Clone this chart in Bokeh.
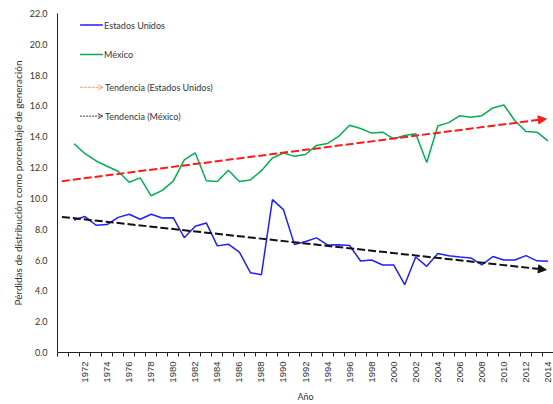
import math
from bokeh.plotting import figure
from bokeh.models import Range1d, FixedTicker, Arrow, NormalHead, OpenHead, Label
from bokeh.embed import file_html
from bokeh.resources import INLINE

# ---- data ----
years = list(range(1971, 2015))
us_losses = [8.6, 8.82, 8.26, 8.3, 8.77, 8.97, 8.65, 8.97, 8.73, 8.75,
             7.45, 8.19, 8.41, 6.92, 7.03, 6.52, 5.18, 5.05, 9.92, 9.27,
             7.0, 7.2, 7.44, 6.98, 7.0, 6.94, 5.94, 6.0, 5.68, 5.68,
             4.4, 6.2, 5.59, 6.42, 6.28, 6.19, 6.14, 5.69, 6.23, 6.0,
             6.0, 6.29, 5.95, 5.92]
mx_losses = [13.55, 12.9, 12.43, 12.09, 11.76, 11.05, 11.33, 10.17, 10.52, 11.12,
             12.5, 12.95, 11.14, 11.1, 11.83, 11.1, 11.2, 11.8, 12.62, 12.95,
             12.73, 12.85, 13.44, 13.57, 14.02, 14.75, 14.54, 14.24, 14.3, 13.87,
             14.08, 14.19, 12.33, 14.7, 14.92, 15.37, 15.26, 15.37, 15.87, 16.06,
             15.04, 14.34, 14.3, 13.73]
trend_years = [1969.9, 2013.85]
trend_us = [8.8, 5.37]
trend_mx = [11.12, 15.16]
label_years = list(range(1972, 2015, 2))
y_ticks = list(range(0, 23, 2))
series_names = ["Estados Unidos", "México", "Tendencia (Estados Unidos)", "Tendencia (México)"]

FONT = "Lato"

p = figure(width=553, height=404, output_backend="svg", toolbar_location=None,
           x_range=Range1d(1969.5, 2014.5), y_range=Range1d(0, 22),
           min_border_left=57, min_border_right=0, min_border_top=13, min_border_bottom=50)
p.xgrid.visible = False
p.ygrid.visible = False
p.outline_line_color = None

# x axis: category-style, ticks between years, labels every other year
xa = p.xaxis[0]
boundaries = [y - 0.5 for y in range(1970, 2016)]
xa.ticker = FixedTicker(ticks=label_years, minor_ticks=boundaries)
xa.axis_line_color = "#222222"
xa.major_tick_line_color = None
xa.major_tick_out = 0
xa.major_tick_in = 0
xa.minor_tick_line_color = "#222222"
xa.minor_tick_out = 4
xa.minor_tick_in = 0
xa.major_label_orientation = math.pi / 2
xa.major_label_text_font = "Liberation Sans"
xa.major_label_text_font_size = "9.5px"
xa.major_label_text_color = "#333333"
xa.major_label_standoff = 5
xa.axis_label = "Año"
xa.axis_label_text_font = FONT
xa.axis_label_text_font_size = "9px"
xa.axis_label_text_font_style = "normal"
xa.axis_label_text_color = "#333333"
xa.axis_label_standoff = 5

ya = p.yaxis[0]
ya.ticker = FixedTicker(ticks=y_ticks)
ya.major_label_overrides = {t: f"{t:.1f}" for t in y_ticks}
ya.axis_line_color = "#222222"
ya.major_tick_line_color = None
ya.minor_tick_line_color = None
ya.major_tick_out = 0
ya.major_tick_in = 0
ya.major_label_text_font = FONT
ya.major_label_text_font_size = "9px"
ya.major_label_text_color = "#333333"
ya.major_label_standoff = 10
ya.axis_label = "Pérdidas de distribución como porcentaje de generación"
ya.axis_label_text_font = FONT
ya.axis_label_text_font_size = "10px"
ya.axis_label_text_font_style = "normal"
ya.axis_label_text_color = "#333333"
ya.axis_label_standoff = 3

BLUE = "#1F1FFF"
GREEN = "#00B050"

p.line(years, us_losses, line_color=BLUE, line_width=1.5)
p.line(years, mx_losses, line_color=GREEN, line_width=1.5)

# trend arrows
p.add_layout(Arrow(x_start=trend_years[0], y_start=trend_mx[0], x_end=trend_years[1], y_end=trend_mx[1],
                   line_color="#FF1A1A", line_width=2, line_dash="8 3",
                   end=NormalHead(size=8, fill_color="#FF1A1A", line_color="#FF1A1A")))
p.add_layout(Arrow(x_start=trend_years[0], y_start=trend_us[0], x_end=trend_years[1], y_end=trend_us[1],
                   line_color="#111111", line_width=2, line_dash="8 3",
                   end=NormalHead(size=8, fill_color="#111111", line_color="#111111")))

# legend drawn manually (samples with arrowheads as in reference)
leg_rows = [21.25, 19.34, 17.21, 15.34]
x0, x1, xt = 1971.55, 1973.61, 1973.73
styles = [
    dict(line_color=BLUE, line_width=1.5, line_dash="solid", head=False),
    dict(line_color=GREEN, line_width=1.5, line_dash="solid", head=False),
    dict(line_color="#F0A070", line_width=1, line_dash="3 1", head=True),
    dict(line_color="#404040", line_width=1, line_dash="2 1", head=True),
]
for name, yrow, st in zip(series_names, leg_rows, styles):
    head = OpenHead(size=5, line_color=st["line_color"], line_width=1) if st["head"] else None
    p.add_layout(Arrow(x_start=x0, y_start=yrow, x_end=x1, y_end=yrow,
                       line_color=st["line_color"], line_width=st["line_width"],
                       line_dash=st["line_dash"], end=head))
    p.add_layout(Label(x=xt + (0.09 if st["head"] else 0), y=yrow, text=name,
                       text_font=FONT, text_font_size="9px", text_color="#333333",
                       text_baseline="middle", text_align="left"))

open("out.html", "w").write(file_html(p, INLINE))
